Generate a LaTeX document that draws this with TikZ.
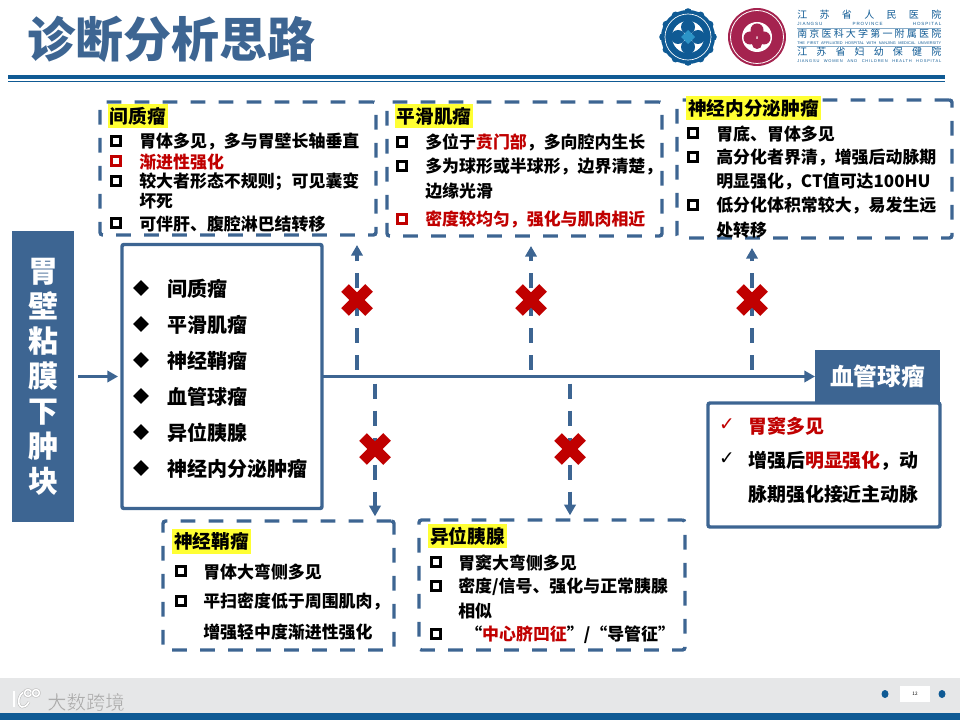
\documentclass[tikz,border=0pt]{standalone}
\usepackage{fontspec}
\usepackage{xcolor}
\usetikzlibrary{arrows.meta, positioning, shapes.geometric, shapes.misc}
\setmainfont{Noto Sans CJK SC}
\newfontfamily\symfont{DejaVu Sans}
\newfontfamily\latinfont{Liberation Sans}
\newfontfamily\latinwide[LetterSpace=20]{Liberation Sans}
\newfontfamily\markfont[FakeBold=0.5]{Noto Sans CJK SC}
\definecolor{slate}{HTML}{3D6592}
\definecolor{navy}{HTML}{0F5A94}
\definecolor{redtxt}{HTML}{C00000}
\definecolor{crimson}{HTML}{A5234F}
\definecolor{footgray}{HTML}{E6E7E8}
\definecolor{hilite}{HTML}{FFFF33}
\newcommand{\rd}[1]{\textcolor{redtxt}{#1}}
\newcommand{\spread}[1]{\makebox[108pt][s]{#1}}

\begin{document}
\begin{tikzpicture}[
  x=0.75pt, y=-0.75pt,
  dashbox/.style={rectangle, draw=slate, line width=2.6pt, dash pattern=on 11pt off 10pt, rounded corners=2pt, outer sep=0pt, inner sep=0pt},
  solidbox/.style={rectangle, draw=slate, line width=2.6pt, fill=white, rounded corners=1.5pt, outer sep=0pt, inner sep=0pt},
  headbox/.style={rectangle, fill=slate, text=white, outer sep=0pt, inner sep=0pt, align=center},
  titletag/.style={rectangle, fill=hilite, anchor=west, inner xsep=1.5pt, inner ysep=0pt, minimum height=18.5pt, font=\bfseries\fontsize{14}{14}\selectfont},
  txt/.style={anchor=west, inner sep=0pt, yshift=-0.5pt, font=\bfseries\fontsize{12.7}{12.7}\selectfont},
  listtxt/.style={anchor=west, inner sep=0pt, yshift=-0.5pt, font=\bfseries\fontsize{15}{15}\selectfont},
  infotxt/.style={anchor=west, inner sep=0pt, yshift=-0.5pt, font=\bfseries\fontsize{14.2}{14.2}\selectfont},
  hostxt/.style={anchor=west, inner sep=0pt, text=navy, font=\fontsize{7.5}{7.5}\selectfont},
  hossmall/.style={anchor=west, inner sep=0pt, text=navy, font=\latinwide\fontsize{3}{4}\selectfont},
  sqbullet/.style={rectangle, draw=#1, line width=1.9pt, minimum size=7pt, inner sep=0pt},
  sqbullet/.default=black,
  dmbullet/.style={diamond, fill=black, minimum size=12pt, inner sep=0pt},
  crossmk/.style={cross out, draw=redtxt, line width=8pt, minimum size=18pt, inner sep=0pt, outer sep=0pt},
  flow/.style={draw=slate, line width=2.6pt, -{Triangle[length=8pt,width=8.5pt]}},
  dashflow/.style={draw=slate, line width=2.6pt, dash pattern=on 11.25pt off 9pt, dash phase=15pt, -{Triangle[length=8pt,width=8.5pt]}, shorten >=7.5pt},
  wmline/.style={draw=white, line width=1.2pt, preaction={draw=gray!55, line width=2pt}},
]
  \useasboundingbox (0,0) rectangle (960,720);

  % header
  \node[anchor=west, inner sep=0pt, text=slate, font=\bfseries\fontsize{36}{36}\selectfont] (title) at (27,39) {诊断分析思路};
  \fill[navy] (8,75) rectangle (945,79.5);
  \fill[navy] (8,81) rectangle (945,82.5);

  % logos
  \fill[navy] (688,37) circle (27);
  \foreach \a in {0,30,...,330}
    \fill[navy] (688,37) ++(\a:25) circle (3.8);
  \draw[white, line width=0.5pt] (688,37) circle (23);
  \fill[white] (688,37) circle (16);
  \fill[navy] (688,27) circle (7) (688,47) circle (7) (678,37) circle (7) (698,37) circle (7);
  \fill[cyan!60!navy] (688,30) -- (695,37) -- (688,44) -- (681,37) -- cycle;
  \fill[crimson] (757,37) circle (29);
  \draw[white, line width=0.6pt] (757,37) circle (26.5);
  \fill[white] (757,37) circle (15);
  \fill[crimson] (757,30) circle (6.5) (750,38) circle (6.5) (764,38) circle (6.5) (757,44) circle (5);

  % hospital names
  \node[hostxt] (hosa) at (797,15) {\spread{江\hfill 苏\hfill 省\hfill 人\hfill 民\hfill 医\hfill 院}};
  \node[hossmall, font=\latinwide\fontsize{3.4}{4}\selectfont] (hosb) at (797,24) {\spread{JIANGSU\hfill PROVINCE\hfill HOSPITAL}};
  \node[hostxt] (hosc) at (797,34) {\spread{南\hfill 京\hfill 医\hfill 科\hfill 大\hfill 学\hfill 第\hfill 一\hfill 附\hfill 属\hfill 医\hfill 院}};
  \node[hossmall, font=\latinfont\fontsize{2.9}{3}\selectfont] (hosf) at (797,43) {\spread{THE FIRST AFFILIATED HOSPITAL WITH NANJING MEDICAL UNIVERSITY}};
  \node[hostxt] (hosd) at (797,52) {\spread{江\hfill 苏\hfill 省\hfill 妇\hfill 幼\hfill 保\hfill 健\hfill 院}};
  \node[hossmall] (hose) at (797,61) {\spread{JIANGSU WOMEN AND CHILDREN HEALTH HOSPITAL}};
  \draw[navy!50, line width=0.4pt] (797,28) -- (941,28) (797,46) -- (941,46);

  % left column
  \node[headbox, minimum width=46.5pt, minimum height=218.25pt, font=\bfseries\fontsize{22.5}{26.25}\selectfont] (root) at (43,376.5) {胃\\壁\\粘\\膜\\下\\肿\\块};
  \node[solidbox, minimum width=150pt, minimum height=198pt] (listbox) at (222,376.5) {};
  \foreach \yy/\lab [count=\i] in {288/间质瘤, 324/平滑肌瘤, 360/神经鞘瘤, 396/血管球瘤, 432/异位胰腺, 468/神经内分泌肿瘤} {
    \node[dmbullet] (dm\i) at (141,\yy) {};
    \node[listtxt] (li\i) at (167,\yy) {\lab};
  }

  % result boxes
  \node[solidbox, minimum width=174pt, minimum height=93pt] (infobox) at (824,465) {};
  \node[headbox, minimum width=93.75pt, minimum height=40.5pt, font=\bfseries\fontsize{17.8}{17.8}\selectfont] (vessel) at (877.5,376.5) {血管球瘤};
  \node[inner sep=0pt, text=redtxt, font=\symfont\fontsize{14}{14}\selectfont] (ck1) at (727,425) {✓};
  \node[inner sep=0pt, font=\symfont\fontsize{14}{14}\selectfont] (ck2) at (727,459) {✓};
  \node[infotxt] (in1) at (748,426) {\rd{胃窦多见}};
  \node[infotxt] (in2) at (748,460) {增强后\rd{明显强化}，动};
  \node[infotxt] (in3) at (748,494) {脉期强化接近主动脉};

  % upper boxes
  \node[dashbox, minimum width=207pt, minimum height=99.75pt] (gist) at (238,168.5) {};
  \node[titletag] (gistt) at (107.5,116) {间质瘤};
  \foreach \yy/\cc [count=\i] in {141/black, 161/redtxt, 181/black, 223/black}
    \node[sqbullet=\cc] (gb\i) at (116,\yy) {};
  \node[txt] (g1) at (139,141) {胃体多见，多与胃壁长轴垂直};
  \node[txt] (g2) at (139,161) {\rd{渐进性强化}};
  \node[txt] (g3) at (139,181) {较大者形态不规则；可见囊变};
  \node[txt] (g4) at (139,201) {坏死};
  \node[txt] (g5) at (139,223) {可伴肝、腹腔淋巴结转移};

  \node[dashbox, minimum width=206.25pt, minimum height=100.5pt] (leio) at (524.5,169) {};
  \node[titletag] (leiot) at (394.5,116) {平滑肌瘤};
  \foreach \yy/\cc [count=\i] in {142/black, 166/black, 219/redtxt}
    \node[sqbullet=\cc] (lb\i) at (402,\yy) {};
  \node[txt] (l1) at (425,142) {多位于\rd{贲门部}，多向腔内生长};
  \node[txt] (l2) at (425,166) {多为球形或半球形，边界清楚，};
  \node[txt] (l3) at (425,190) {边缘光滑};
  \node[txt] (l4) at (425,219) {\rd{密度较均匀，强化与肌肉相近}};

  \node[dashbox, minimum width=206.25pt, minimum height=103.5pt] (nen) at (814.5,169) {};
  \node[titletag] (nent) at (686,108) {神经内分泌肿瘤};
  \foreach \yy [count=\i] in {133, 157, 205}
    \node[sqbullet] (nb\i) at (693,\yy) {};
  \node[txt] (n1) at (716,133) {胃底、胃体多见};
  \node[txt] (n2) at (716,157) {高分化者界清，增强后动脉期};
  \node[txt] (n3) at (716,181) {明显强化，CT值可达100HU};
  \node[txt] (n4) at (716,205) {低分化体积常较大，易发生远};
  \node[txt] (n5) at (716,229) {处转移};

  % lower boxes
  \node[dashbox, minimum width=173.25pt, minimum height=96.75pt] (schw) at (278.5,585.5) {};
  \node[titletag] (schwt) at (172,541.5) {神经鞘瘤};
  \foreach \yy [count=\i] in {571, 601}
    \node[sqbullet] (sb\i) at (181,\yy) {};
  \node[txt] (s1) at (203,571) {胃体大弯侧多见};
  \node[txt] (s2) at (203,601) {平扫密度低于周围肌肉，};
  \node[txt] (s3) at (203,631) {增强轻中度渐进性强化};

  \node[dashbox, minimum width=199.5pt, minimum height=97.5pt] (ecto) at (552,585) {};
  \node[titletag] (ectot) at (428,536) {异位胰腺};
  \foreach \yy [count=\i] in {562, 586, 634}
    \node[sqbullet] (eb\i) at (436,\yy) {};
  \node[txt] (e1) at (458,562) {胃窦大弯侧多见};
  \node[txt] (e2) at (458,586) {密度/信号、强化与正常胰腺};
  \node[txt] (e3) at (458,610) {相似};
  \node[txt] (e4) at (465,634) {“\rd{中心脐凹征}”/“导管征”};

  % connectors
  \draw[flow, shorten <=3pt, shorten >=3pt] (root.east) -- (listbox.west);
  \draw[flow] (listbox.east) -- (vessel.west);
  \coordinate (jgist) at (357,376.5);
  \coordinate (jleio) at (531,376.5);
  \coordinate (jnen) at (752,376.5);
  \coordinate (jschw) at (375,376.5);
  \coordinate (jecto) at (570,376.5);
  \draw[dashflow] (jgist) -- (jgist |- gist.south);
  \draw[dashflow] (jleio) -- (jleio |- leio.south);
  \draw[dashflow] (jnen) -- (jnen |- nen.south);
  \draw[dashflow, shorten >=3.5pt] (jschw) -- (jschw |- schw.north);
  \draw[dashflow, shorten >=3.5pt] (jecto) -- (jecto |- ecto.north);

  % crosses
  \node[crossmk] (xgist) at (357,300) {};
  \node[crossmk] (xleio) at (531,300) {};
  \node[crossmk] (xnen) at (752,300) {};
  \node[crossmk] (xschw) at (375,449) {};
  \node[crossmk] (xecto) at (570,449) {};

  % footer
  \fill[footgray] (0,678) rectangle (960,713);
  \fill[navy] (0,713) rectangle (960,720);
  \path[wmline] (14,691) -- (14,707);
  \path[wmline] (26,691) .. controls (17,694) and (17,706) .. (22,707) .. controls (26,707) and (28,704) .. (29,702);
  \path[wmline] (28,693) circle (3.5);
  \path[wmline] (36,693) circle (3.5);
  \node[anchor=west, inner sep=0pt, font=\markfont\fontsize{14.5}{14.5}\selectfont] (mark) at (47,702) {\special{pdf:bcolor [0.68] [1]}大数跨境\special{pdf:ecolor}};
  \fill[white] (900,686) rectangle (930,702);
  \node[inner sep=0pt, font=\fontsize{3.5}{4}\selectfont] (page) at (915,694) {12};
  \fill[navy] (885,694) ellipse (3.5 and 4);
  \fill[navy] (942,694) ellipse (3.5 and 4);
\end{tikzpicture}
\end{document}
